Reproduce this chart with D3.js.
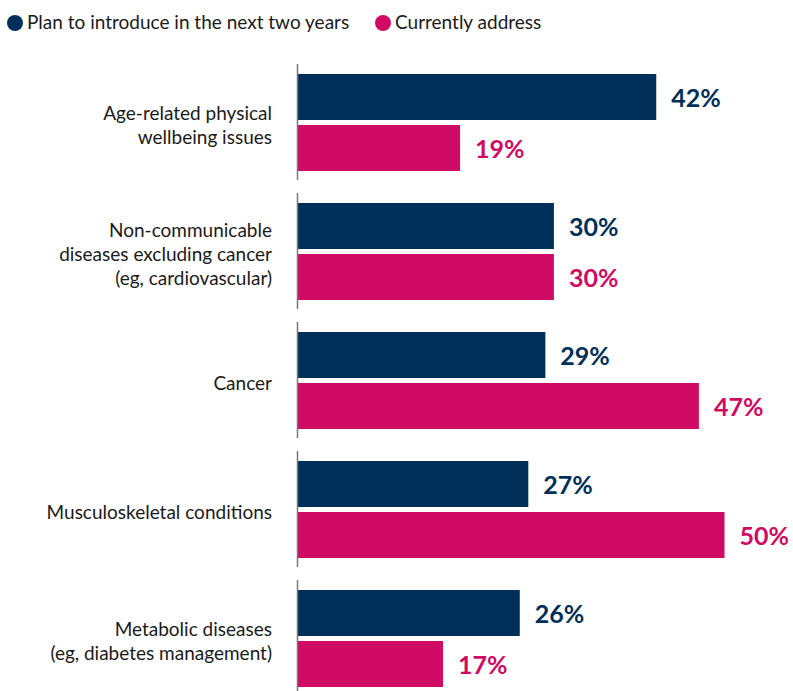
<!DOCTYPE html>
<html>
<head>
<meta charset="utf-8">
<script src="https://cdn.jsdelivr.net/npm/d3@7"></script>
<style>
  body { margin: 0; background: #fff; }
  text { font-family: Lato, "Open Sans", sans-serif; }
</style>
</head>
<body>
<div id="chart"></div>
<script>
// categories, top to bottom
const categories = [
    ["Age-related physical", "wellbeing issues"],
    ["Non-communicable", "diseases excluding cancer", "(eg, cardiovascular)"],
    ["Cancer"],
    ["Musculoskeletal conditions"],
    ["Metabolic diseases", "(eg, diabetes management)"]
];
const seriesNames = ["Plan to introduce in the next two years", "Currently address"];
const planValues = [42, 30, 29, 27, 26];
const currentValues = [19, 30, 47, 50, 17];
const colors = ["#00305a", "#d00b63"];

let width = 793, height = 691;

let svg = d3.select("#chart")
    .append("svg")
    .attr("width", width)
    .attr("height", height);

let keys = categories.map(function(d, i) { return "c" + i; });

// one band per category
let y = d3.scaleBand()
    .domain(keys)
    .range([64, 696])
    .paddingInner(13 / 129)
    .paddingOuter(0);

// two bars inside each band
let yInner = d3.scaleBand()
    .domain([0, 1])
    .range([10, y.bandwidth() - 9])
    .paddingInner(0.098);

let x = d3.scaleLinear()
    .domain([0, 50])
    .range([298, 724.5]);

// legend
let legend = svg.append("g");
let legendX = [15, 383];
seriesNames.forEach(function(name, i) {
    legend.append("circle")
        .attr("cx", legendX[i])
        .attr("cy", 23)
        .attr("r", 8)
        .attr("fill", colors[i]);
    legend.append("text")
        .attr("x", legendX[i] + 12)
        .attr("y", 29)
        .attr("font-size", "19px")
        .attr("fill", "#1a1a1a")
        .text(name);
});

let groups = svg.selectAll(".group")
    .data(keys)
    .enter().append("g")
    .attr("class", "group")
    .attr("transform", function(d) { return "translate(0," + y(d) + ")"; });

groups.each(function(key, i) {
    let g = d3.select(this);
    let vals = [planValues[i], currentValues[i]];

    vals.forEach(function(v, s) {
        g.append("rect")
            .attr("x", x(0))
            .attr("y", yInner(s))
            .attr("width", x(v) - x(0))
            .attr("height", yInner.bandwidth())
            .attr("fill", colors[s]);

        g.append("text")
            .attr("x", x(v) + 15)
            .attr("y", yInner(s) + yInner.bandwidth() / 2)
            .attr("dy", "0.4em")
            .attr("font-size", "25px")
            .attr("font-weight", "bold")
            .attr("fill", colors[s])
            .text(v + "%");
    });

    // axis segment for this group
    g.append("line")
        .attr("x1", x(0) - 0.5)
        .attr("x2", x(0) - 0.5)
        .attr("y1", 0)
        .attr("y2", y.bandwidth())
        .attr("stroke", "#777")
        .attr("stroke-width", 1.5);

    // category label
    let lines = categories[i];
    let lineH = 24;
    let cy = y.bandwidth() / 2 + 3;
    let label = g.append("text")
        .attr("text-anchor", "end")
        .attr("font-size", "19px")
        .attr("fill", "#1a1a1a");
    lines.forEach(function(t, j) {
        label.append("tspan")
            .attr("x", 272)
            .attr("y", cy + (j - (lines.length - 1) / 2) * lineH)
            .attr("dy", "0.35em")
            .text(t);
    });
});
</script>
</body>
</html>
